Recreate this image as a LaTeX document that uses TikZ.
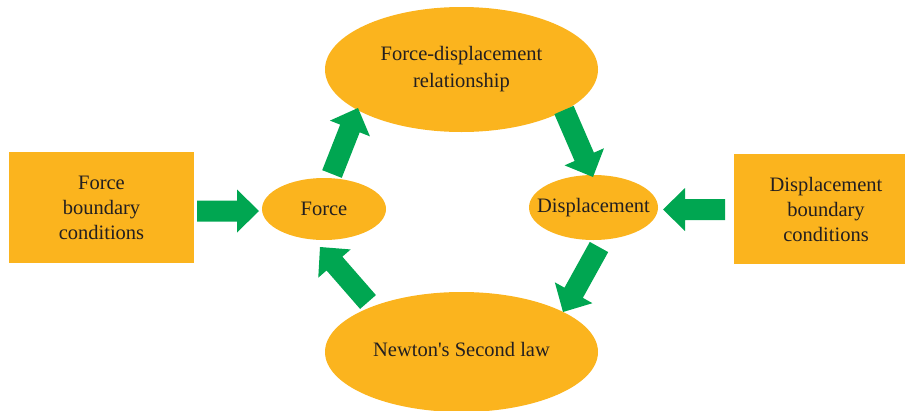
\documentclass[tikz,border=0pt]{standalone}
\usepackage{fontspec}
\setmainfont{Liberation Serif}[Ligatures=TeXOff]
\usetikzlibrary{calc,shapes.geometric}
\definecolor{boxorange}{RGB}{251,180,30}
\definecolor{arrowgreen}{RGB}{0,166,81}
\definecolor{textdark}{RGB}{35,31,32}
\newcommand\greenarrow[2]{%
  \coordinate (ga-h) at ($(#2)!22pt!(#1)$);
  \fill[arrowgreen]
    ($(#1)!10.5pt!90:(#2)$) -- ($(ga-h)!10.5pt!90:(#2)$) -- ($(ga-h)!21.5pt!90:(#2)$)
    -- (#2)
    -- ($(ga-h)!21.5pt!-90:(#2)$) -- ($(ga-h)!10.5pt!-90:(#2)$) -- ($(#1)!10.5pt!-90:(#2)$) -- cycle;
}
\begin{document}
\begin{tikzpicture}[x=1pt,y=-1pt,
  lbl/.style={text=textdark,font=\fontsize{20.5}{25}\selectfont,align=center,inner sep=0pt},
  oval/.style={ellipse,fill=boxorange,draw=none,inner sep=0pt},
  bcbox/.style={rectangle,fill=boxorange,draw=none,lbl}]
\useasboundingbox (0,0) rectangle (905,410);
\clip (0,0) rectangle (905,410);
% boxes
\node[bcbox,minimum width=185pt,minimum height=111pt] (lrect) at (101.5,207.5) {Force\\boundary\\conditions};
\node[bcbox,minimum width=184pt,minimum height=110pt] (rrect) at (826,209) {Displacement\\boundary\\conditions};
% ellipses
\node[oval,minimum width=273pt,minimum height=125pt] (top) at (461.5,69.5) {};
\node[lbl,font=\fontsize{20.5}{27}\selectfont] (toptext) at (461.5,69.5) {Force-displacement\\relationship};
\node[oval,minimum width=273pt,minimum height=120pt] (bottom) at (461.5,352) {};
\node[lbl] (bottomtext) at (461.5,349) {Newton's Second law};
\node[oval,minimum width=124pt,minimum height=62pt] (force) at (324,209) {};
\node[lbl] (forcetext) at (324,209) {Force};
\node[oval,minimum width=129pt,minimum height=65pt] (disp) at (593.5,207.5) {};
\node[lbl] (disptext) at (593.5,208) {Displacement};
% arrow end points
\coordinate (a1s) at (197,211);   \coordinate (a1e) at (259,211);
\coordinate (a2s) at (725,209.5); \coordinate (a2e) at (663,209.5);
\coordinate (a3s) at (332,174);   \coordinate (a3e) at (358,108);
\coordinate (a4s) at (564,110);   \coordinate (a4e) at (593,177);
\coordinate (a5s) at (599,247);   \coordinate (a5e) at (563,312);
\coordinate (a6s) at (368,302);   \coordinate (a6e) at (320,247);
\greenarrow{a1s}{a1e}
\greenarrow{a2s}{a2e}
\greenarrow{a3s}{a3e}
\greenarrow{a4s}{a4e}
\greenarrow{a5s}{a5e}
\greenarrow{a6s}{a6e}
\end{tikzpicture}
\end{document}
